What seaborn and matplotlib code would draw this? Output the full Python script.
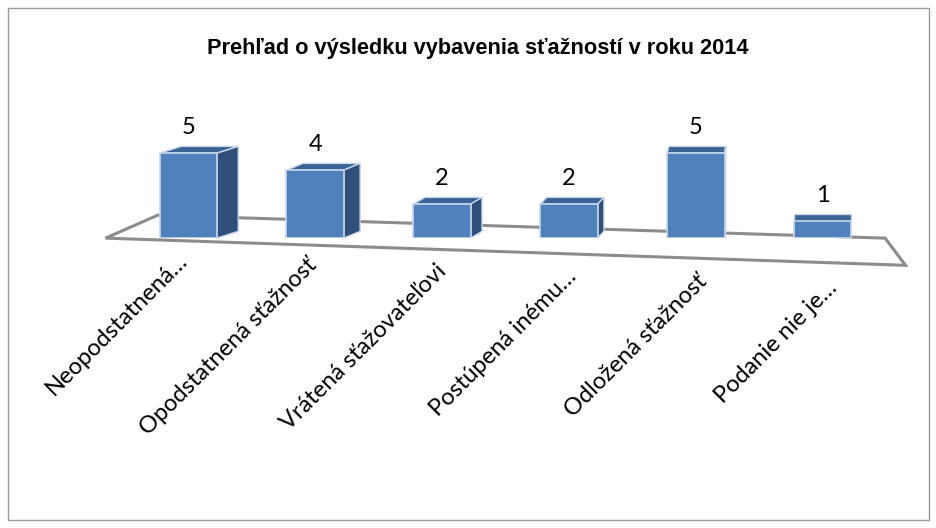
import matplotlib
matplotlib.use('Agg')
import matplotlib.pyplot as plt
import matplotlib.transforms as mtransforms
import seaborn as sns
from matplotlib.patches import Polygon, Rectangle

# Chart data
categories = ['Neopodstatnená…', 'Opodstatnená sťažnosť', 'Vrátená sťažovateľovi',
              'Postúpená inému…', 'Odložená sťažnosť', 'Podanie nie je…']
counts = [5, 4, 2, 2, 5, 1]

sns.set_style('white')
plt.rcParams['font.family'] = ['Lato', 'DejaVu Sans']
plt.rcParams['text.color'] = 'black'
plt.rcParams['xtick.color'] = 'black'

fig = plt.figure(figsize=(9.37, 5.28), dpi=100)
ax = fig.add_axes([0.133, 0.549, 0.813, 0.193])

sns.barplot(x=categories, y=counts, color='#4f81bd', saturation=1, width=0.45,
            edgecolor='#c9d7ea', linewidth=1.2, ax=ax, zorder=3)

# floor of the 3d plot
floor = Polygon([(-0.65, 0.0), (-0.24, 1.35), (5.49, 0.0), (5.65, -1.6)],
                closed=True, facecolor='white', edgecolor='#8c8c8c', linewidth=2.2,
                clip_on=False, zorder=1)
ax.add_patch(floor)

# fake depth faces derived from the bars
dy = 0.4
for bar in ax.patches[:len(counts)]:
    x, w, h = bar.get_x(), bar.get_width(), bar.get_height()
    c = x + w / 2
    dx = max(0.17 - 0.04 * c, 0.0)
    top = Polygon([(x, h), (x + w, h), (x + w + dx, h + dy), (x + dx, h + dy)],
                  facecolor='#3b6396', edgecolor='#c9d7ea', linewidth=1.0,
                  clip_on=False, zorder=2.5)
    ax.add_patch(top)
    if dx > 0.01:
        side = Polygon([(x + w, 0), (x + w + dx, dy), (x + w + dx, h + dy), (x + w, h)],
                       facecolor='#30507a', edgecolor='#c9d7ea', linewidth=1.0,
                       clip_on=False, zorder=2.5)
        ax.add_patch(side)
    ax.text(c, h + 0.9, str(int(h)), ha='center', va='bottom', fontsize=17)

ax.set_ylim(0, 6)
ax.set_xlim(-0.5, 5.5)
ax.set_yticks([])
ax.set_ylabel('')
for s in ax.spines.values():
    s.set_visible(False)
ax.tick_params(axis='x', length=0, pad=8)
# labels follow the tilted front edge of the floor
for i, lab in enumerate(ax.get_xticklabels()):
    lab.set(rotation=45, ha='right', va='top', rotation_mode='anchor', fontsize=17)
    shift = mtransforms.ScaledTranslation(-0.12 + 0.03 * i, -0.055 * i, fig.dpi_scale_trans)
    lab.set_transform(lab.get_transform() + shift)

fig.text(0.51, 0.908, 'Prehľad o výsledku vybavenia sťažností v roku 2014',
         ha='center', va='center', fontsize=15.7, fontweight='bold',
         family=['Liberation Sans', 'DejaVu Sans'])

fig.patches.append(Rectangle((0.009, 0.015), 0.982, 0.97, transform=fig.transFigure,
                             fill=False, edgecolor='#9a9a9a', linewidth=1.0))

fig.savefig('out.png', dpi=100)
